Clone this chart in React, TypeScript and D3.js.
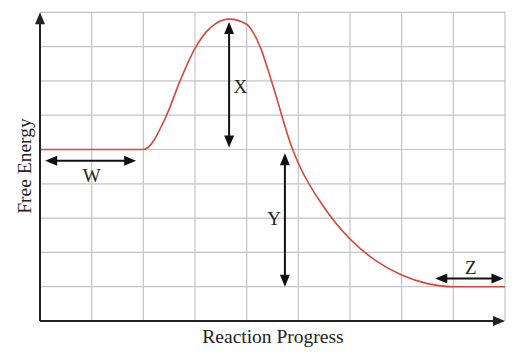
import React from "react";
import * as d3 from "d3";

const gridXTicks = [0, 1, 2, 3, 4, 5, 6, 7, 8, 9];
const gridYTicks = [0, 1, 2, 3, 4, 5, 6, 7, 8, 9];

// reaction progress (grid units) vs free energy (grid units)
const progress = [0, 2, 2.45, 2.71, 3.0, 3.2, 3.4, 3.66, 4.0, 4.13, 4.26, 4.48, 4.89, 5.0, 5.5, 6.0, 6.5, 7.0, 7.5, 8.0, 9.0];
const energy = [5, 5, 6.0, 7.0, 7.95, 8.4, 8.67, 8.8, 8.65, 8.4, 8.0, 7.0, 5.0, 4.6, 3.31, 2.39, 1.76, 1.34, 1.09, 1.0, 1.0];

const arrowLabels = ["W", "X", "Y", "Z"];
const arrowX1 = [0.1, 3.66, 4.74, 7.65];
const arrowY1 = [4.67, 8.72, 4.89, 1.24];
const arrowX2 = [1.86, 3.66, 4.74, 8.97];
const arrowY2 = [4.67, 5.06, 1.0, 1.24];
const labelX = [1.0, 3.88, 4.53, 8.34];
const labelY = [4.06, 6.64, 2.8, 1.37];

const W = 525;
const H = 355;
const L = 40, R = 505, T = 12.3, B = 321;
const FONT = "'Liberation Serif', 'Times New Roman', serif";

function arrowHead(tipX: number, tipY: number, dx: number, dy: number, len = 12, half = 5) {
  const n = Math.hypot(dx, dy) || 1;
  const ux = dx / n, uy = dy / n;
  const bx = tipX - ux * len, by = tipY - uy * len;
  const px = -uy, py = ux;
  return `M${tipX},${tipY}L${bx + px * half},${by + py * half}L${bx - px * half},${by - py * half}Z`;
}

export default function App() {
  const x = d3.scaleLinear().domain([0, 9]).range([L, R]);
  const y = d3.scaleLinear().domain([0, 9]).range([B, T]);
  const pts: [number, number][] = progress.map((p, i) => [p, energy[i]]);
  const line = d3
    .line<[number, number]>()
    .x((d) => x(d[0]))
    .y((d) => y(d[1]))
    .curve(d3.curveMonotoneX);

  return (
    <svg width={W} height={H} style={{ position: "absolute", left: 0, top: 0, background: "#fff" }}>
      <rect x={0} y={0} width={W} height={H} fill="#fff" />
      {gridXTicks.slice(1).map((t) => (
        <line key={"gx" + t} x1={x(t)} x2={x(t)} y1={T} y2={B} stroke="#c4c4c4" strokeWidth={1.2} />
      ))}
      {gridYTicks.slice(1).map((t) => (
        <line key={"gy" + t} x1={L} x2={R} y1={y(t)} y2={y(t)} stroke="#c4c4c4" strokeWidth={1.2} />
      ))}
      <path d={line(pts) || ""} fill="none" stroke="#d5493c" strokeWidth={1.6} />
      {/* axes */}
      <line x1={L} x2={L} y1={B} y2={T + 8} stroke="#222" strokeWidth={2} />
      <path d={arrowHead(L, T, 0, -1, 12, 5)} fill="#222" />
      <line x1={L} x2={R - 8} y1={B} y2={B} stroke="#222" strokeWidth={2} />
      <path d={arrowHead(R, B, 1, 0, 12, 5)} fill="#222" />
      {arrowLabels.map((lab, i) => {
        const x1 = x(arrowX1[i]), y1 = y(arrowY1[i]), x2 = x(arrowX2[i]), y2 = y(arrowY2[i]);
        const dx = x2 - x1, dy = y2 - y1;
        const n = Math.hypot(dx, dy);
        const ux = dx / n, uy = dy / n;
        return (
          <g key={lab}>
            <line x1={x1 + ux * 8} y1={y1 + uy * 8} x2={x2 - ux * 8} y2={y2 - uy * 8} stroke="#111" strokeWidth={2} />
            <path d={arrowHead(x2, y2, dx, dy, 12, 5)} fill="#111" />
            <path d={arrowHead(x1, y1, -dx, -dy, 12, 5)} fill="#111" />
            <text x={x(labelX[i])} y={y(labelY[i])} textAnchor="middle" fontFamily={FONT} fontSize={19} fill="#222">
              {lab}
            </text>
          </g>
        );
      })}
      <text x={273} y={343} textAnchor="middle" fontFamily={FONT} fontSize={19.5} fill="#222">
        Reaction Progress
      </text>
      <text
        transform={`translate(31,166) rotate(-90)`}
        textAnchor="middle"
        fontFamily={FONT}
        fontSize={19.5}
        fill="#222"
      >
        Free Energy
      </text>
    </svg>
  );
}
